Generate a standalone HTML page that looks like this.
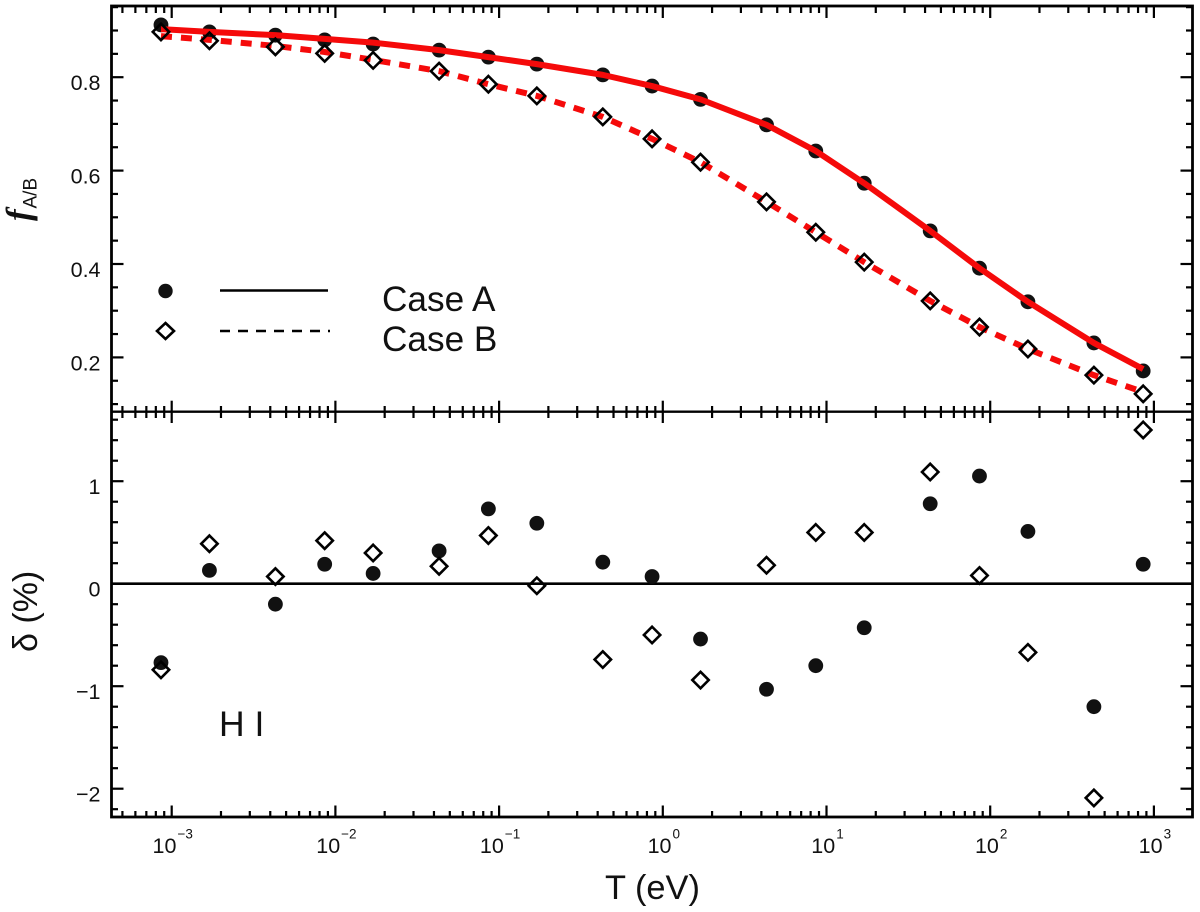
<!DOCTYPE html>
<html lang="en">
<head>
<meta charset="utf-8">
<title>Case A/B recombination fit</title>
<style>
html,body{margin:0;padding:0;background:#fff;width:1200px;height:912px;overflow:hidden}
svg{display:block}
text{font-family:"Liberation Sans",sans-serif;fill:#111}
</style>
</head>
<body>
<svg id="chart" xmlns="http://www.w3.org/2000/svg" width="1200" height="912" viewBox="0 0 1200 912">
  <rect x="0" y="0" width="1200" height="912" fill="#fff"/>
  <g id="ticks"></g>
  <g id="labels"></g>
  <g id="marks"></g>
  <rect x="111.5" y="6" width="1081" height="811" fill="none" stroke="#000" stroke-width="2.8"/>
  <line x1="111.5" x2="1192.5" y1="411.7" y2="411.7" stroke="#000" stroke-width="2.4"/>
  <text x="605" y="899" font-size="34.4">T (eV)</text>
  <text transform="translate(30,221) rotate(-90)" font-size="35" font-weight="bold" style="font-family:'Liberation Serif',serif;font-style:italic">f</text>
  <text transform="translate(36.7,208.5) rotate(-90)" font-size="19">A/B</text>
  <text transform="translate(37,652) rotate(-90)" font-size="34">δ (%)</text>
  <g id="legend">
    <text x="382" y="311" font-size="35.2">Case A</text>
    <text x="382" y="351" font-size="35.2">Case B</text>
    <line x1="220" x2="328" y1="290.5" y2="290.5" stroke="#000" stroke-width="2.6"/>
    <line x1="220" x2="330" y1="331" y2="331" stroke="#000" stroke-width="2.6" stroke-dasharray="10 8"/>
    <circle cx="165.5" cy="291" r="7.2" fill="#111"/>
    <path d="M165.5 323L174 331L165.5 339L157 331Z" fill="none" stroke="#000" stroke-width="2.6"/>
  </g>
  <text x="219" y="736" font-size="35.5">H I</text>
</svg>
<script>
// Data
const temperatureEv = [8.6e-4, 1.7e-3, 4.3e-3, 8.6e-3, 1.7e-2, 4.3e-2, 8.6e-2, 0.17, 0.43, 0.86, 1.7, 4.3, 8.6, 17, 43, 86, 170, 430, 860];
const caseAPoints = [0.912, 0.897, 0.890, 0.880, 0.871, 0.858, 0.843, 0.828, 0.805, 0.781, 0.7525, 0.698, 0.642, 0.573, 0.471, 0.391, 0.319, 0.231, 0.171];
const caseBPoints = [0.897, 0.878, 0.865, 0.851, 0.836, 0.813, 0.785, 0.760, 0.715, 0.668, 0.618, 0.533, 0.468, 0.404, 0.321, 0.265, 0.218, 0.162, 0.122];
const caseAFit = [0.903, 0.897, 0.890, 0.882, 0.874, 0.858, 0.843, 0.828, 0.805, 0.781, 0.7525, 0.698, 0.642, 0.573, 0.471, 0.391, 0.319, 0.231, 0.175];
const caseBFit = [0.888, 0.880, 0.867, 0.854, 0.837, 0.813, 0.785, 0.760, 0.715, 0.668, 0.618, 0.533, 0.468, 0.404, 0.321, 0.265, 0.218, 0.162, 0.126];
const caseADelta = [-0.77, 0.13, -0.20, 0.19, 0.10, 0.32, 0.73, 0.59, 0.21, 0.07, -0.54, -1.03, -0.80, -0.43, 0.78, 1.05, 0.51, -1.20, 0.19];
const caseBDelta = [-0.84, 0.39, 0.07, 0.42, 0.30, 0.17, 0.47, -0.02, -0.74, -0.50, -0.94, 0.18, 0.50, 0.50, 1.09, 0.08, -0.67, -2.09, 1.50];
const xDecades = [-3, -2, -1, 0, 1, 2, 3];
const topYTicks = [0.2, 0.4, 0.6, 0.8];
const topYTickLabels = ["0.2", "0.4", "0.6", "0.8"];
const bottomYTicks = [-2, -1, 0, 1];
const bottomYTickLabels = ["\u22122", "\u22121", "0", "1"];

// Axis functions
function xScale(t) { return 171.7 + (Math.log10(t) + 3) * 163.7; }
function yTop(v) { return 357.4 - (v - 0.2) * 467; }
function yBottom(v) { return 583.7 - v * 102.5; }

const NS = 'http://www.w3.org/2000/svg';
const ticksG = document.getElementById('ticks');
const labelsG = document.getElementById('labels');
const marksG = document.getElementById('marks');

function tick(x1, y1, x2, y2) {
  const el = document.createElementNS(NS, 'line');
  el.setAttribute('x1', x1);
  el.setAttribute('y1', y1);
  el.setAttribute('x2', x2);
  el.setAttribute('y2', y2);
  el.setAttribute('stroke', '#000');
  el.setAttribute('stroke-width', '2.2');
  
  
  ticksG.appendChild(el);
}

// X ticks: top edge, panel divider, bottom edge
for (let d = -4; d <= 3; d++) {
  for (let m = 1; m <= 9; m++) {
    const t = m * Math.pow(10, d);
    const x = xScale(t);
    if (x < 112 || x > 1192) continue;
    const major = m === 1;
    tick(x, 6, x, major ? 18 : 13);
    tick(x, major ? 400.7 : 406, x, major ? 423 : 418);
    tick(x, 817, x, major ? 805.5 : 811);
  }
}

// Y ticks, top panel
for (let i = 2; i <= 19; i++) {
  const v = i * 0.05;
  const y = yTop(v);
  const major = i % 4 === 0;
  const len = major ? 12 : 6.5;
  tick(111.5, y, 111.5 + len, y);
  tick(1192.5, y, 1192.5 - len, y);
}

// Y ticks, bottom panel
for (let i = -11; i <= 8; i++) {
  const v = i * 0.2;
  const y = yBottom(v);
  const major = i % 5 === 0;
  const len = major ? 12 : 6.5;
  tick(111.5, y, 111.5 + len, y);
  tick(1192.5, y, 1192.5 - len, y);
}

// Y tick labels
function yLabel(text, y, name) {
  const el = document.createElementNS(NS, 'text');
  el.setAttribute('x', 100.5);
  el.setAttribute('y', y + 13);
  el.setAttribute('text-anchor', 'end');
  el.setAttribute('font-size', '21.5');
  el.textContent = text;
  
  
  labelsG.appendChild(el);
}
topYTicks.forEach(function (v, i) {
  yLabel(topYTickLabels[i], yTop(v), 'top-y-tick-label');
});
bottomYTicks.forEach(function (v, i) {
  yLabel(bottomYTickLabels[i], yBottom(v), 'bottom-y-tick-label');
});

// X tick labels
xDecades.forEach(function (d) {
  const el = document.createElementNS(NS, 'text');
  el.setAttribute('x', xScale(Math.pow(10, d)) + 1);
  el.setAttribute('y', 853);
  el.setAttribute('text-anchor', 'middle');
  el.setAttribute('font-size', '21.5');
  
  
  el.appendChild(document.createTextNode('10'));
  const sup = document.createElementNS(NS, 'tspan');
  sup.setAttribute('dy', '-14.5');
  sup.setAttribute('dx', '1');
  sup.setAttribute('font-size', '13.5');
  sup.textContent = String(d).replace('-', '\u2212');
  el.appendChild(sup);
  labelsG.appendChild(el);
});

// Zero line in the residual panel
const zeroLine = document.createElementNS(NS, 'line');
zeroLine.setAttribute('x1', 111.5);
zeroLine.setAttribute('x2', 1192.5);
zeroLine.setAttribute('y1', yBottom(0));
zeroLine.setAttribute('y2', yBottom(0));
zeroLine.setAttribute('stroke', '#000');
zeroLine.setAttribute('stroke-width', '2.6');


ticksG.appendChild(zeroLine);

function drawCircle(t, y, name) {
  const el = document.createElementNS(NS, 'circle');
  el.setAttribute('cx', xScale(t));
  el.setAttribute('cy', y);
  el.setAttribute('r', '7.4');
  el.setAttribute('fill', '#111');
  
  
  marksG.appendChild(el);
}
function drawDiamond(t, y, name) {
  const x = xScale(t);
  const r = 8.2;
  const el = document.createElementNS(NS, 'path');
  el.setAttribute('d', 'M' + x + ' ' + (y - r) + 'L' + (x + r) + ' ' + y + 'L' + x + ' ' + (y + r) + 'L' + (x - r) + ' ' + y + 'Z');
  el.setAttribute('fill', 'none');
  el.setAttribute('stroke', '#000');
  el.setAttribute('stroke-width', '2.6');
  
  
  marksG.appendChild(el);
}
function drawFit(values, dash, name) {
  const el = document.createElementNS(NS, 'polyline');
  const pts = values.map(function (v, i) {
    return xScale(temperatureEv[i]).toFixed(2) + ',' + yTop(v).toFixed(2);
  });
  el.setAttribute('points', pts.join(' '));
  el.setAttribute('fill', 'none');
  el.setAttribute('stroke', '#f50a0a');
  el.setAttribute('stroke-width', '6');
  el.setAttribute('stroke-linejoin', 'round');
  if (dash) el.setAttribute('stroke-dasharray', dash);
  
  
  marksG.appendChild(el);
}

// Draw order: circles, red curves, diamonds
temperatureEv.forEach(function (t, i) {
  drawCircle(t, yTop(caseAPoints[i]), 'case-a-point');
});
drawFit(caseBFit, '11 9', 'case-b-fit-line');
drawFit(caseAFit, '', 'case-a-fit-line');
temperatureEv.forEach(function (t, i) {
  drawDiamond(t, yTop(caseBPoints[i]), 'case-b-point');
});
temperatureEv.forEach(function (t, i) {
  drawCircle(t, yBottom(caseADelta[i]), 'case-a-residual');
});
temperatureEv.forEach(function (t, i) {
  drawDiamond(t, yBottom(caseBDelta[i]), 'case-b-residual');
});
</script>
</body>
</html>
